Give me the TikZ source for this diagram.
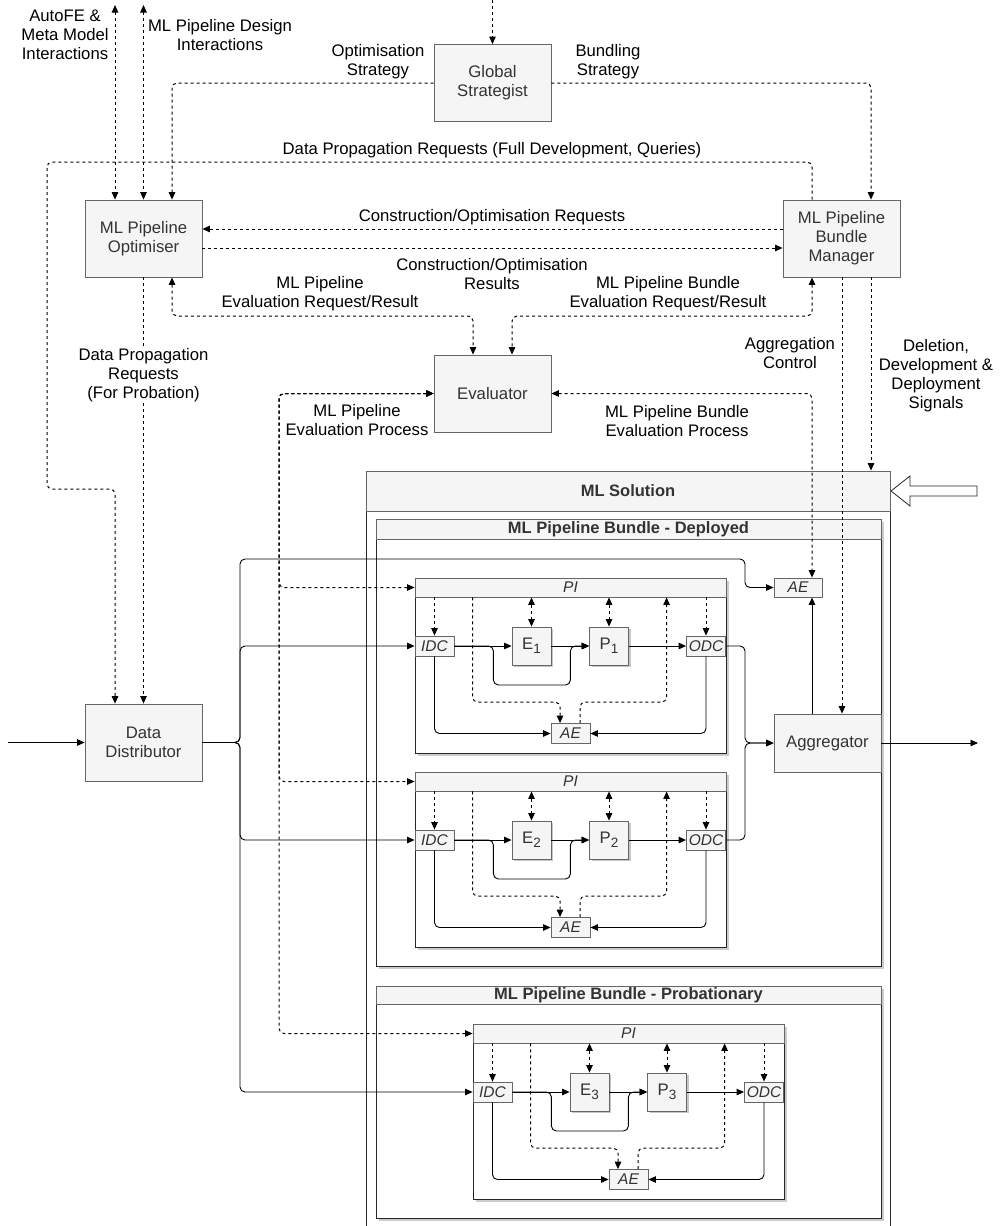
\documentclass[tikz,border=0pt]{standalone}
\usepackage{fontspec}
\setmainfont{Liberation Sans}
\usetikzlibrary{arrows.meta,calc,shadows}
\definecolor{boxfill}{HTML}{F5F5F5}
\definecolor{boxline}{HTML}{666666}
\definecolor{boxtext}{HTML}{333333}
\newcommand\lblfont{\fontsize{16.7}{19}\selectfont}
\newcommand\smfont{\fontsize{15.5}{18}\selectfont\itshape}
\newcommand\bfont{\fontsize{16.5}{19}\selectfont\bfseries}
\newcommand\subidx[1]{\raisebox{-4pt}{\fontsize{13.5}{15}\selectfont #1}}

\newcommand\pipeinst[3]{%
\begin{scope}[shift={(#2,#3)}]
\fill[black!20] (417.5,580.5) rectangle (728.5,755.5);
\draw[pibody] (415,578) rectangle (726,753);
\node[pihdr] (pi#1) at (570.5,587.5) {PI};
\node[tag] (idc#1) at (434.5,646) {IDC};
\node[proc] (e#1) at (531.5,646) {E\subidx{#1}};
\node[proc] (p#1) at (609,646) {P\subidx{#1}};
\node[tag] (odc#1) at (706,646) {ODC};
\node[tag] (ae#1) at (570.5,733.5) {AE};
\draw[dsh,->] (idc#1.north |- pi#1.south) -- (idc#1.north);
\draw[dsh,<->] (e#1.north |- pi#1.south) -- (e#1.north);
\draw[dsh,<->] (p#1.north |- pi#1.south) -- (p#1.north);
\draw[dsh,->] (odc#1.north |- pi#1.south) -- (odc#1.north);
\draw[dsh,->,rc] ($(pi#1.south west)+(58,0)$) |- ($(ae#1.north)+(-10.5,-21)$) -- ($(ae#1.north)+(-10.5,0)$);
\draw[dsh,->,rc] ($(ae#1.north)+(9.5,0)$) -- ($(ae#1.north)+(9.5,-21)$) -| ($(pi#1.south west)+(252,0)$);
\draw[ln,->] (idc#1.east) -- (e#1.west);
\draw[ln,->,rc] (idc#1.east) -- ++(39,0) -- ++(0,39) -- ++(77,0) -- ++(0,-39) -- (p#1.west);
\draw[ln,->] (e#1.east) -- (p#1.west);
\draw[ln,->] (p#1.east) -- (odc#1.west);
\draw[ln,->,rc] (idc#1.south) |- (ae#1.west);
\draw[ln,->,rc] (odc#1.south) |- (ae#1.east);
\end{scope}}

\begin{document}
\begin{tikzpicture}[x=1pt,y=-1pt,
  >={Triangle[length=7.5pt,width=6.5pt]},
  box/.style={draw=boxline, fill=boxfill, text=boxtext, font=\lblfont, align=center,
    minimum width=117pt, minimum height=77pt, inner sep=1pt, line width=0.8pt},
  tag/.style={draw=boxline, fill=boxfill, text=boxtext, font=\smfont,
    minimum width=39pt, minimum height=20pt, inner sep=0pt, line width=0.8pt},
  proc/.style={draw=boxline, fill=boxfill, text=boxtext, font=\lblfont,
    minimum width=39pt, minimum height=38pt, inner sep=0pt, line width=0.8pt,
    drop shadow={shadow xshift=2pt, shadow yshift=-2pt, fill=black, opacity=0.22}},
  pihdr/.style={draw=boxline, fill=boxfill, text=boxtext, font=\smfont,
    minimum width=311pt, minimum height=19pt, inner sep=0pt, line width=0.8pt},
  pibody/.style={draw=black!85, fill=white, line width=0.9pt},
  cont/.style={draw=black!85, line width=0.9pt},
  bhdr/.style={draw=boxline, fill=boxfill, text=boxtext, font=\bfont,
    inner sep=0pt, line width=0.8pt},
  ln/.style={draw=black, line width=0.9pt},
  dsh/.style={draw=black, line width=1pt, dash pattern=on 3pt off 3pt},
  rc/.style={rounded corners=5pt},
  lbl/.style={font=\lblfont, align=center, inner sep=1pt, text=black}]
\clip (0,0) rectangle (1001,1226);
\fill[white] (0,0) rectangle (1001,1226);

% guide coordinates
\coordinate (g115) at (115,0);
\coordinate (g172) at (172,0);
\coordinate (g473) at (473,0);
\coordinate (g512) at (512,0);
\coordinate (g745) at (745,0);
\coordinate (g812) at (812,0);
\coordinate (g842) at (842,0);
\coordinate (g871) at (871,0);
\coordinate (gtop) at (492.5,0);
\coordinate (autofe) at (115,5);
\coordinate (design) at (143.5,5);
\coordinate (din) at (8,742.5);
\coordinate (dout) at (978,743);

% main boxes
\node[box] (gs) at (492.5,83) {Global\\Strategist};
\node[box] (opt) at (143.5,238.5) {ML Pipeline\\Optimiser};
\node[box] (mgr) at (841.5,238.5) {ML Pipeline\\Bundle\\Manager};
\node[box] (ev) at (492.5,393.5) {Evaluator};
\node[box] (dd) at (143.5,742.5) {Data\\Distributor};

% ML solution container
\draw[cont] (366,511) rectangle (890,1240);
\node[bhdr, minimum width=524pt, minimum height=40pt] (mls) at (628,491) {ML Solution};
\draw[draw=black!85, fill=white, line width=0.8pt] (891,491) -- (910,476) -- (910,486) -- (977,486) -- (977,496) -- (910,496) -- (910,506) -- cycle;

% bundles
\fill[black!20] (378.5,521.5) rectangle (883.5,968.5);
\draw[cont, fill=white] (376,519) rectangle (881,966);
\node[bhdr, minimum width=505pt, minimum height=20pt] (bdep) at (628.5,529) {ML Pipeline Bundle - Deployed};
\fill[black!20] (378.5,988.5) rectangle (883.5,1220.5);
\draw[cont, fill=white] (376,986) rectangle (881,1218);
\node[bhdr, minimum width=505pt, minimum height=18pt] (bprob) at (628.5,995) {ML Pipeline Bundle - Probationary};

\node[tag, minimum width=48pt, minimum height=19pt] (aeo) at (798,587.5) {AE};
\node[box, minimum width=107pt, minimum height=58pt] (agg) at (827.5,743) {Aggregator};

\pipeinst{1}{0}{0}
\pipeinst{2}{0}{194}
\pipeinst{3}{58}{446}

% top dashed connectors
\draw[dsh,->] (gtop) -- (gs.north);
\draw[dsh,<->] (autofe) -- (opt.north -| autofe);
\draw[dsh,<->] (design) -- (opt.north);
\draw[dsh,->,rc] (gs.west) -| (opt.north -| g172);
\draw[dsh,->,rc] (gs.east) -| (mgr.north -| g871);
\draw[dsh,->,rc] (mgr.north -| g812) -- (812,162) -- (47,162) -- (47,489) -- (115,489) -- (dd.north -| g115);
\draw[dsh,->] ($(mgr.west)+(0,-9.5)$) -- ($(opt.east)+(0,-9.5)$);
\draw[dsh,->] ($(opt.east)+(0,9.5)$) -- ($(mgr.west)+(0,9.5)$);
\draw[dsh,->] (opt.south) -- node[lbl, fill=white, pos=0.23] {Data Propagation\\Requests\\(For Probation)} (dd.north);
\draw[dsh,<->,rc] (opt.south -| g172) -- (172,316) -- (473,316) -- (ev.north -| g473);
\draw[dsh,<->,rc] (mgr.south -| g812) -- (812,316) -- (512,316) -- (ev.north -| g512);
\draw[dsh,<->,rc] (ev.west) -- (279,393.5) |- (pi1.west);
\draw[dsh,<->,rc] (ev.west) -- (279,393.5) |- (pi2.west);
\draw[dsh,<->,rc] (ev.west) -- (279,393.5) |- (pi3.west);
\draw[dsh,<->,rc] (ev.east) -| (aeo.north -| g812);
\draw[dsh,->] (mgr.south -| g842) -- (agg.north -| g842);
\draw[dsh,->] (mgr.south -| g871) -- (mls.north -| g871);

% solid data flow
\draw[ln,->] (din) -- (dd.west);
\draw[ln,->,rc] (dd.east) -- (240,742.5) |- (idc1.west);
\draw[ln,->,rc] (dd.east) -- (240,742.5) |- (idc2.west);
\draw[ln,->,rc] (dd.east) -- (240,742.5) |- (idc3.west);
\draw[ln,->,rc] (dd.east) -- (240,742.5) -- (240,559) -- (745,559) |- (aeo.west);
\draw[ln,->,rc] (odc1.east) -- (odc1.east -| g745) |- (agg.west);
\draw[ln,->,rc] (odc2.east) -- (odc2.east -| g745) |- (agg.west);
\draw[ln,->] (agg.north -| g812) -- (aeo.south -| g812);
\draw[ln,->] (agg.east) -- (dout);

% labels
\node[lbl] at (65,35) {AutoFE \&\\Meta Model\\Interactions};
\node[lbl] at (220,35) {ML Pipeline Design\\Interactions};
\node[lbl] at (378,62) {Optimisation\\Strategy};
\node[lbl] at (608,62) {Bundling\\Strategy};
\node[lbl] at (492,150) {Data Propagation Requests (Full Development, Queries)};
\node[lbl] at (492,217) {Construction/Optimisation Requests};
\node[lbl] at (492,274) {Construction/Optimisation\\Results};
\node[lbl] at (320,294) {ML Pipeline\\Evaluation Request/Result};
\node[lbl] at (668,294) {ML Pipeline Bundle\\Evaluation Request/Result};
\node[lbl] at (790,353) {Aggregation\\Control};
\node[lbl] at (936,376) {Deletion,\\Development \&\\Deployment\\Signals};
\node[lbl] at (357,420) {ML Pipeline\\Evaluation Process};
\node[lbl] at (677,421) {ML Pipeline Bundle\\Evaluation Process};
\end{tikzpicture}
\end{document}
